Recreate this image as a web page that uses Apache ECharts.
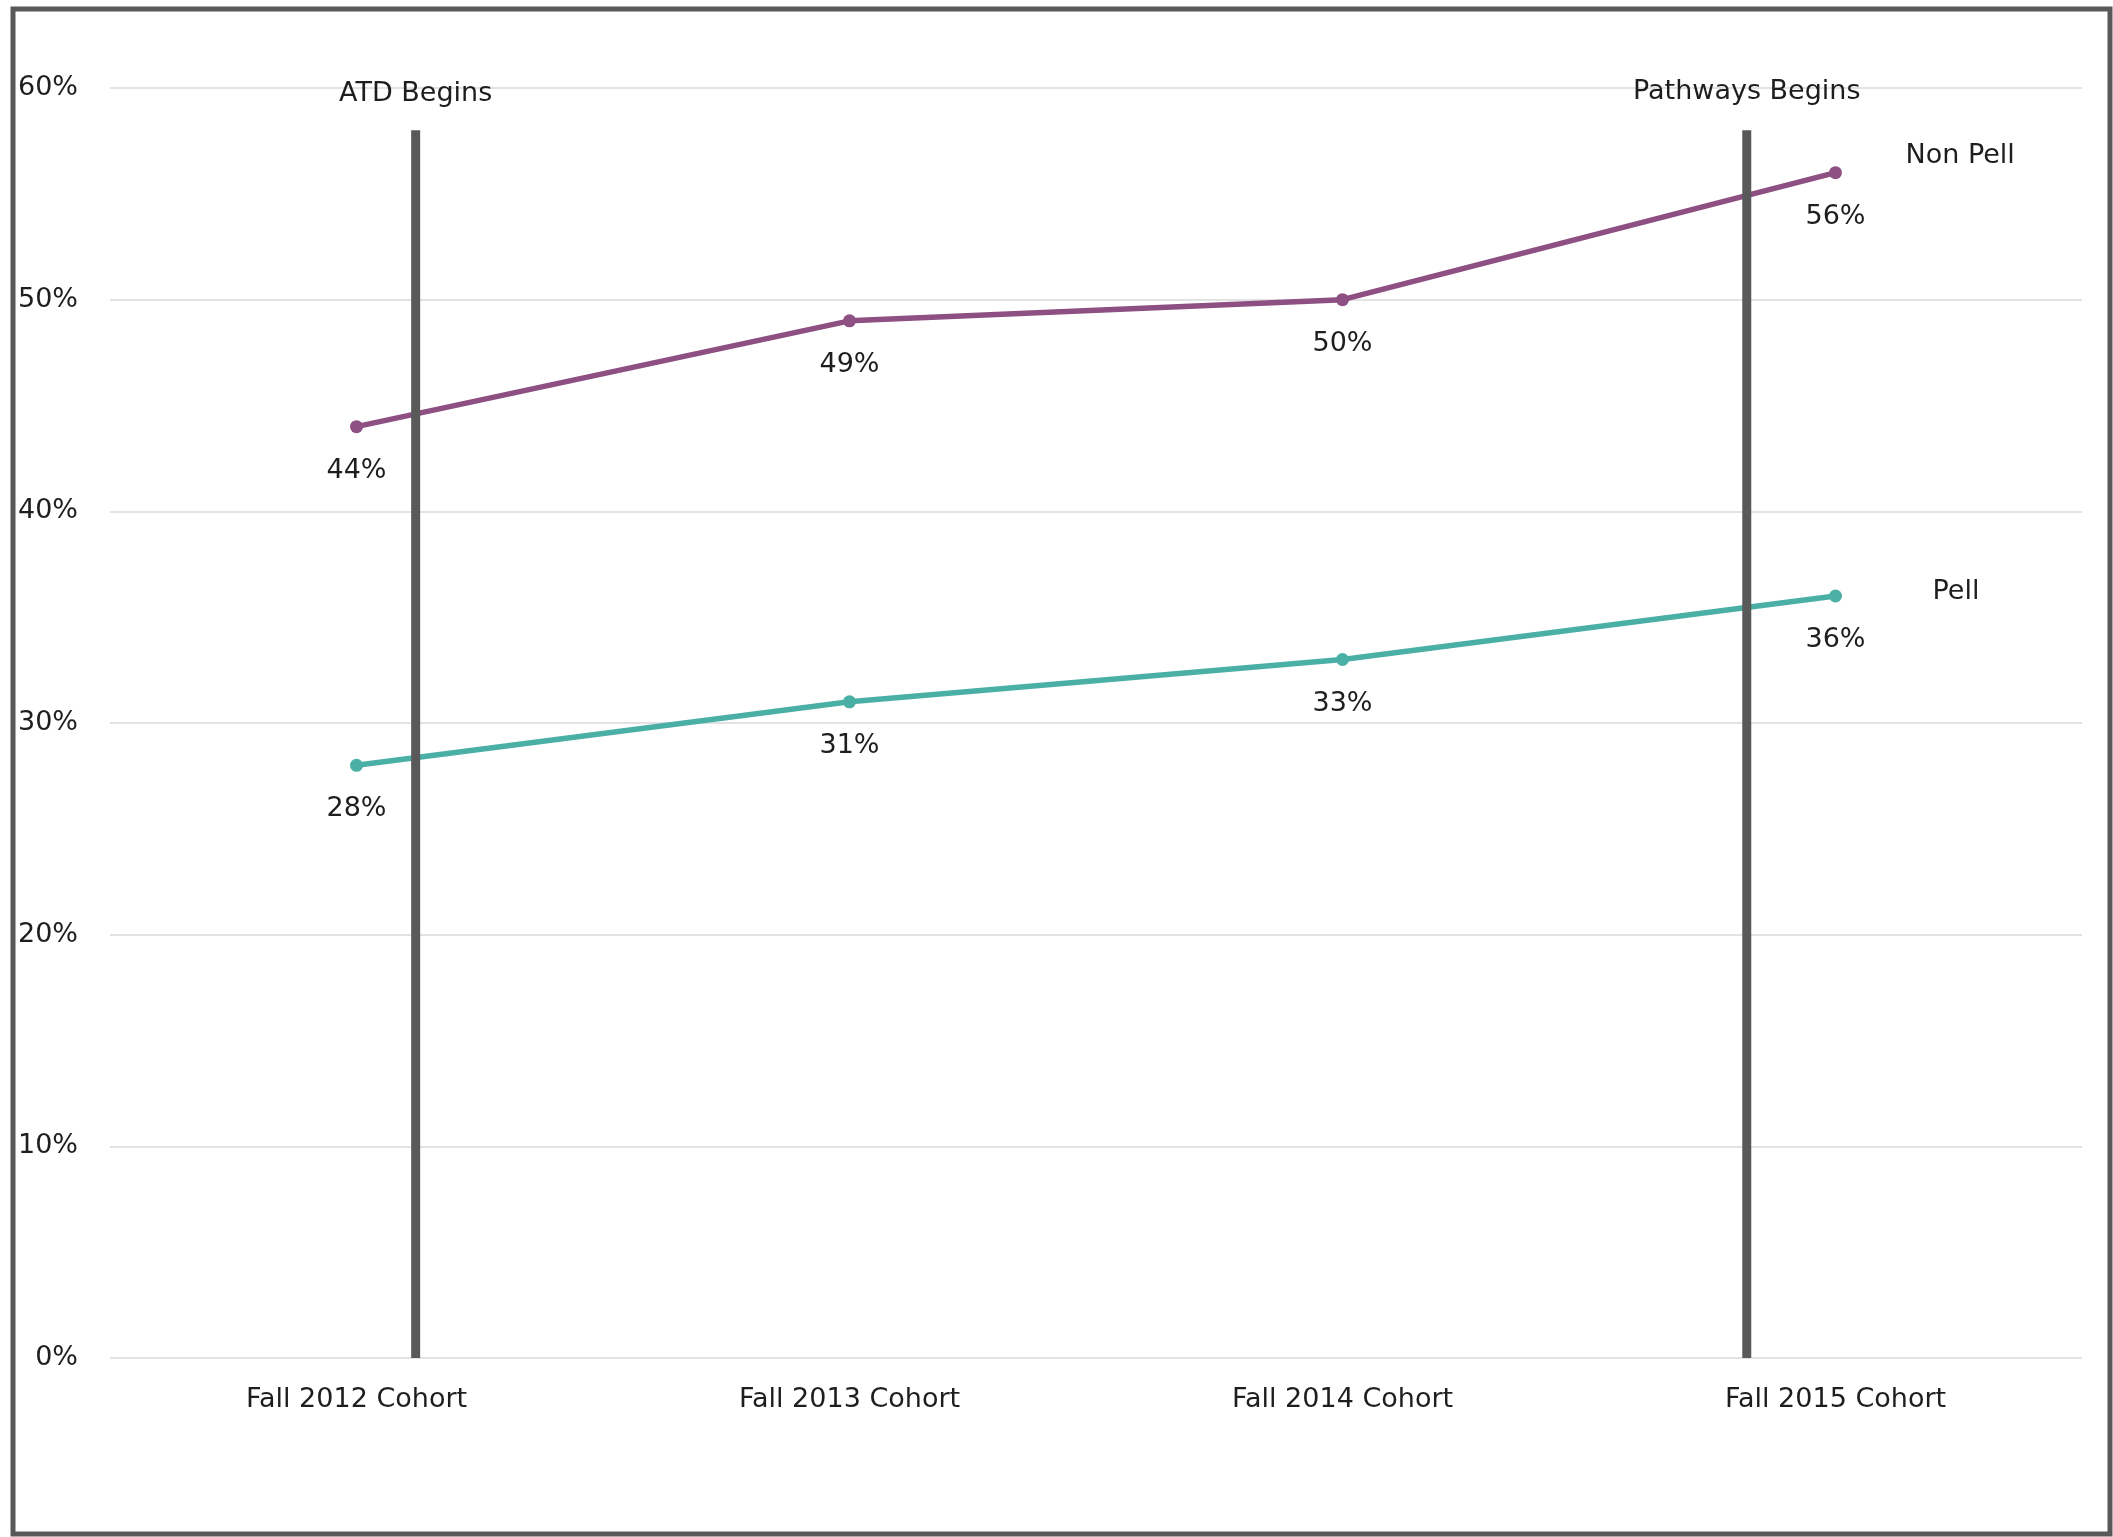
<!DOCTYPE html>
<html>
<head>
<meta charset="utf-8">
<script src="https://cdn.jsdelivr.net/npm/echarts@6/dist/echarts.min.js"></script>
<style>
html,body{margin:0;padding:0;background:#fff;}
#chart{width:2113px;height:1537px;}
</style>
</head>
<body>
<div id="chart"></div>
<script>
var categories = ['Fall 2012 Cohort', 'Fall 2013 Cohort', 'Fall 2014 Cohort', 'Fall 2015 Cohort'];
var nonPell = [44, 49, 50, 56];
var pell = [28, 31, 33, 36];
var yTicks = [0, 10, 20, 30, 40, 50, 60];
// event markers: position on a 0..4 band scale (category i centred at i+0.5)
var eventNames = ['ATD Begins', 'Pathways Begins'];
var eventPos = [0.62, 3.32];
var eventTop = 58;

var FONT = 'DejaVu Sans';
var TXT = '#1e1e1e';
var chart = echarts.init(document.getElementById('chart'), null, {renderer: 'canvas'});

function eventSeries(i) {
  return {
    type: 'line',
    name: eventNames[i],
    xAxisIndex: 1,
    z: 5,
    symbol: 'circle',
    symbolSize: 1,
    showSymbol: true,
    silent: true,
    itemStyle: {color: 'rgba(0,0,0,0)'},
    lineStyle: {color: '#595959', width: 9, cap: 'butt'},
    label: {show: false},
    data: [
      {value: [eventPos[i], 0]},
      {value: [eventPos[i], eventTop], label: {show: true, position: 'top', distance: i === 0 ? 22 : 24, formatter: eventNames[i], fontFamily: FONT, fontSize: 27, color: TXT}}
    ]
  };
}

chart.setOption({
  animation: false,
  backgroundColor: '#fff',
  textStyle: {fontFamily: FONT},
  grid: {left: 110, right: 31, top: 88, bottom: 179, containLabel: false},
  xAxis: [{
    type: 'category',
    data: categories,
    boundaryGap: true,
    axisLine: {show: false},
    axisTick: {show: false},
    axisLabel: {fontFamily: FONT, fontSize: 27, color: TXT, margin: 28}
  }, {
    type: 'value',
    min: 0, max: 4,
    show: false
  }],
  yAxis: {
    type: 'value',
    min: yTicks[0], max: yTicks[yTicks.length - 1], interval: 10,
    axisLine: {show: false},
    axisTick: {show: false},
    splitLine: {lineStyle: {color: '#d9d9d9', width: 1.5}},
    axisLabel: {fontFamily: FONT, fontSize: 27, color: TXT, margin: 32, formatter: '{value}%', padding: [8, 0, 0, 0]}
  },
  series: [{
    type: 'line',
    name: 'Non Pell',
    data: nonPell,
    z: 3,
    color: '#8e4f82',
    symbol: 'circle',
    symbolSize: 13,
    lineStyle: {width: 5.5},
    label: {show: true, position: 'bottom', distance: 24, formatter: '{c}%', fontFamily: FONT, fontSize: 27, color: TXT},
    endLabel: {show: true, formatter: '{a}', offset: [62, -17], fontFamily: FONT, fontSize: 27, color: TXT}
  }, {
    type: 'line',
    name: 'Pell',
    data: pell,
    z: 3,
    color: '#4ab0a6',
    symbol: 'circle',
    symbolSize: 13,
    lineStyle: {width: 5.5},
    label: {show: true, position: 'bottom', distance: 24, formatter: '{c}%', fontFamily: FONT, fontSize: 27, color: TXT},
    endLabel: {show: true, formatter: '{a}', offset: [89, -4], fontFamily: FONT, fontSize: 27, color: TXT}
  }, eventSeries(0), eventSeries(1)],
  graphic: [{
    type: 'rect',
    silent: true,
    z: 100,
    shape: {x: 13, y: 9, width: 2097, height: 1525},
    style: {fill: 'none', stroke: '#595959', lineWidth: 5}
  }]
});
</script>
</body>
</html>
